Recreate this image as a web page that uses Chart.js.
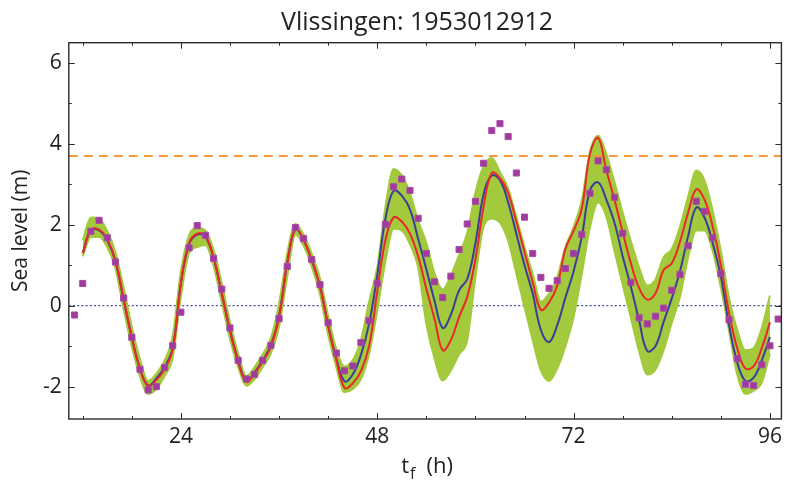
<!DOCTYPE html>
<html>
<head>
<meta charset="utf-8">
<title>Vlissingen: 1953012912</title>
<script src="https://cdn.jsdelivr.net/npm/chart.js"></script>
<style>
  html, body { margin: 0; padding: 0; background: #fff; }
</style>
</head>
<body>
<canvas id="chart" width="787" height="484"></canvas>
<script>
// forecast hours of the model runs
const hours = [12, 13, 14, 15, 16, 17, 18, 19, 20, 21, 22, 23, 24, 25, 26, 27, 28, 29, 30,
  31, 32, 33, 34, 35, 36, 37, 38, 39, 40, 41, 42, 43, 44, 45, 46, 47, 48, 49, 50,
  51, 52, 53, 54, 55, 56, 57, 58, 59, 60, 61, 62, 63, 64, 65, 66, 67, 68, 69, 70,
  71, 72, 73, 74, 75, 76, 77, 78, 79, 80, 81, 82, 83, 84, 85, 86, 87, 88, 89, 90,
  91, 92, 93, 94, 95, 96];

// ensemble mean (blue)
const ensMean = [1.30, 1.86, 1.86, 1.62, 1.10, 0.15, -0.78, -1.55, -1.97, -1.80, -1.52, -1.05,
  0.55, 1.52, 1.76, 1.70, 1.18, 0.30, -0.60, -1.35, -1.86, -1.65, -1.35, -0.98, -0.25,
  1.05, 1.90, 1.62, 1.12, 0.48, -0.48, -1.30, -1.87, -1.70, -1.22, -0.45, 0.75, 2.15,
  2.84, 2.72, 2.38, 1.65, 0.90, 0.12, -0.55, -0.22, 0.38, 0.66, 1.55, 2.75, 3.22, 3.10,
  2.55, 1.78, 1.00, 0.30, -0.60, -0.90, -0.48, 0.20, 0.85, 1.70, 2.85, 3.05, 2.62, 2.05,
  1.22, 0.47, -0.36, -1.12, -1.00, -0.40, 0.18, 0.85, 1.72, 2.43, 2.18, 1.55, 0.72,
  -0.48, -1.40, -1.86, -1.78, -1.35, -0.77];

// deterministic run (red)
const detRun = [1.30, 1.88, 1.88, 1.64, 1.12, 0.16, -0.78, -1.56, -1.99, -1.84, -1.58, -1.08,
  0.55, 1.55, 1.78, 1.72, 1.18, 0.30, -0.62, -1.38, -1.88, -1.68, -1.38, -1.02, -0.28,
  1.05, 1.90, 1.63, 1.12, 0.48, -0.50, -1.34, -2.03, -1.92, -1.62, -1.00, 0.35, 1.62,
  2.18, 2.08, 1.78, 1.22, 0.42, -0.32, -1.10, -0.85, -0.28, 0.22, 1.15, 2.45, 3.28, 3.15,
  2.78, 2.08, 1.33, 0.58, -0.10, 0.08, 0.50, 1.40, 1.85, 2.40, 3.75, 4.15, 3.35, 2.62,
  1.82, 1.05, 0.44, 0.15, 0.30, 0.88, 1.05, 1.58, 2.30, 2.88, 2.62, 1.95, 1.00,
  -0.18, -1.05, -1.55, -1.50, -1.05, -0.41];

// upper and lower edge of the ensemble members (green)
const ensMax = [1.62, 2.18, 2.15, 1.85, 1.32, 0.45, -0.52, -1.32, -1.86, -1.68, -1.36, -0.75,
  0.85, 1.74, 1.92, 1.86, 1.38, 0.55, -0.40, -1.18, -1.74, -1.52, -1.20, -0.80, 0.05,
  1.30, 2.02, 1.76, 1.28, 0.68, -0.25, -1.08, -1.50, -1.35, -0.85, 0.10, 0.95, 2.45,
  3.38, 3.22, 2.78, 2.10, 1.55, 0.80, 0.40, 0.75, 1.25, 1.80, 2.80, 3.45, 3.65, 3.30,
  2.90, 2.19, 1.45, 0.79, 0.10, 0.30, 0.70, 1.45, 1.95, 2.60, 3.80, 4.20, 3.75, 3.05,
  2.30, 1.60, 0.95, 0.50, 0.65, 1.20, 1.40, 1.95, 2.70, 3.34, 3.10, 2.35, 1.35,
  0.20, -0.60, -1.10, -1.05, -0.55, 0.25];
const ensMin = [1.22, 1.70, 1.70, 1.45, 0.92, -0.08, -1.00, -1.75, -2.18, -2.06, -1.74, -1.28,
  0.22, 1.30, 1.45, 1.50, 0.98, 0.08, -0.82, -1.52, -1.98, -1.82, -1.52, -1.18, -0.52,
  0.72, 1.76, 1.48, 0.96, 0.28, -0.72, -1.52, -2.14, -2.06, -1.82, -1.20, -0.12, 1.10,
  1.90, 1.86, 1.52, 0.95, -0.45, -1.30, -1.85, -1.60, -1.20, -0.85, 0.70, 1.95, 2.15,
  2.05, 1.61, 0.79, -0.03, -0.85, -1.60, -1.86, -1.55, -1.00, -0.28, 0.79, 1.94, 2.55,
  2.20, 1.35, 0.52, -0.30, -1.12, -1.70, -1.58, -1.10, -0.42, 0.22, 1.20, 1.86, 1.86,
  1.35, 0.45, -0.62, -1.70, -2.18, -2.10, -1.90, -1.18];

// hourly observed sea level (purple)
const obsHours = [11, 12, 13, 14, 15, 16, 17, 18, 19, 20, 21, 22, 23, 24, 25, 26, 27, 28, 29, 30,
  31, 32, 33, 34, 35, 36, 37, 38, 39, 40, 41, 42, 43, 44, 45, 46, 47, 48, 49, 50,
  51, 52, 53, 54, 55, 56, 57, 58, 59, 60, 61, 62, 63, 64, 65, 66, 67, 68, 69, 70,
  71, 72, 73, 74, 75, 76, 77, 78, 79, 80, 81, 82, 83, 84, 85, 86, 87, 88, 89, 90,
  91, 92, 93, 94, 95, 96, 97];
const obsLevel = [-0.23, 0.55, 1.84, 2.11, 1.68, 1.08, 0.19, -0.78, -1.57, -2.08, -2.00, -1.53,
  -0.99, -0.16, 1.43, 1.98, 1.74, 1.17, 0.41, -0.55, -1.35, -1.81, -1.70, -1.35, -0.98,
  -0.32, 0.97, 1.93, 1.66, 1.14, 0.52, -0.42, -1.17, -1.61, -1.49, -0.91, -0.37, 0.55,
  2.01, 2.94, 3.13, 2.85, 2.16, 1.29, 0.59, 0.20, 0.73, 1.39, 2.02, 2.58, 3.52, 4.33,
  4.50, 4.18, 3.28, 2.19, 1.29, 0.70, 0.43, 0.62, 0.92, 1.29, 1.76, 2.78, 3.58, 3.36,
  2.68, 1.79, 0.58, -0.30, -0.45, -0.26, -0.06, 0.38, 0.77, 1.48, 2.58, 2.33, 1.68,
  0.79, -0.35, -1.31, -1.94, -1.97, -1.46, -0.99, -0.33];

const alarmLevel = 3.7;   // orange dashed threshold
const xMin = 10.3, xMax = 97.4;
const yMin = -2.8, yMax = 6.5;
const xTicks = [12, 18, 24, 30, 36, 42, 48, 54, 60, 66, 72, 78, 84, 90, 96];
const xTickLabels = [24, 48, 72, 96];
const yTicks = [-2, -1, 0, 1, 2, 3, 4, 5, 6];
const yTickLabels = [-2, 0, 2, 4, 6];
const chartTitle = 'Vlissingen: 1953012912';

const FONT = "'Open Sans', 'DejaVu Sans', sans-serif";
const GREEN = 'rgb(163, 201, 60)';

const pts = (xs, ys) => xs.map((x, i) => ({ x: x, y: ys[i] }));

// frame with inward tick marks on all four sides, title and the t_f axis title
const framePlugin = {
  id: 'frame',
  afterDraw(chart) {
    const { ctx, chartArea: a, scales: { x, y } } = chart;
    ctx.save();
    ctx.strokeStyle = '#2b2b2b';
    ctx.lineWidth = 1.4;
    ctx.strokeRect(a.left, a.top, a.right - a.left, a.bottom - a.top);
    ctx.lineWidth = 1;
    ctx.beginPath();
    xTicks.forEach(v => {
      const px = Math.round(x.getPixelForValue(v)) + 0.5;
      const len = xTickLabels.includes(v) ? 6 : 3;
      ctx.moveTo(px, a.bottom); ctx.lineTo(px, a.bottom - len);
      ctx.moveTo(px, a.top); ctx.lineTo(px, a.top + len);
    });
    yTicks.forEach(v => {
      const py = Math.round(y.getPixelForValue(v)) + 0.5;
      const len = yTickLabels.includes(v) ? 6 : 3;
      ctx.moveTo(a.left, py); ctx.lineTo(a.left + len, py);
      ctx.moveTo(a.right, py); ctx.lineTo(a.right - len, py);
    });
    ctx.stroke();

    ctx.fillStyle = '#222';
    ctx.textBaseline = 'alphabetic';

    // chart title
    ctx.textAlign = 'center';
    ctx.font = '25px ' + FONT;
    ctx.fillText(chartTitle, 417, 30);

    // x axis title: t with subscript f, then (h)
    ctx.textAlign = 'left';
    const big = '22px ' + FONT, small = '16px ' + FONT;
    ctx.font = big;
    const wT = ctx.measureText('t').width;
    const wH = ctx.measureText('(h)').width;
    ctx.font = small;
    const wF = ctx.measureText('f').width;
    const gap = 12;
    const total = wT + wF + gap + wH;
    const cx = (a.left + a.right) / 2 - total / 2 + 2;
    const base = 473;
    ctx.font = big;
    ctx.fillText('t', cx, base);
    ctx.font = small;
    ctx.fillText('f', cx + wT + 1, base + 6);
    ctx.font = big;
    ctx.fillText('(h)', cx + wT + wF + gap, base);
    ctx.restore();
  }
};

new Chart(document.getElementById('chart'), {
  type: 'line',
  data: {
    datasets: [
      {
        label: 'ensemble max',
        data: pts(hours, ensMax),
        borderColor: GREEN,
        backgroundColor: GREEN,
        borderWidth: 2,
        pointRadius: 0,
        fill: '+1',
        cubicInterpolationMode: 'monotone',
        order: 5
      },
      {
        label: 'ensemble min',
        data: pts(hours, ensMin),
        borderColor: GREEN,
        borderWidth: 2,
        pointRadius: 0,
        fill: false,
        cubicInterpolationMode: 'monotone',
        order: 5
      },
      {
        label: 'zero',
        data: [{ x: xMin, y: 0 }, { x: xMax, y: 0 }],
        borderColor: '#4a4ea6',
        borderWidth: 1.3,
        borderDash: [2, 2.2],
        pointRadius: 0,
        order: 6
      },
      {
        label: 'alarm level',
        data: [{ x: xMin, y: alarmLevel }, { x: xMax, y: alarmLevel }],
        borderColor: '#f39a3a',
        borderWidth: 2,
        borderDash: [9, 6],
        pointRadius: 0,
        order: 4
      },
      {
        label: 'ensemble mean',
        data: pts(hours, ensMean),
        borderColor: '#3a3e9b',
        borderWidth: 2,
        pointRadius: 0,
        tension: 0.4,
        order: 2
      },
      {
        label: 'deterministic',
        data: pts(hours, detRun),
        borderColor: '#e8282b',
        borderWidth: 2,
        pointRadius: 0,
        tension: 0.4,
        order: 1
      },
      {
        label: 'observed',
        data: pts(obsHours, obsLevel),
        showLine: false,
        pointStyle: 'rect',
        pointRadius: 4.3,
        pointBorderWidth: 1,
        pointBackgroundColor: '#a03a9c',
        pointBorderColor: '#a84aa6',
        order: 0
      }
    ]
  },
  options: {
    responsive: false,
    animation: false,
    devicePixelRatio: 1,
    layout: { padding: { left: 0, right: 2, top: 42.7, bottom: 0 }, autoPadding: false },
    plugins: {
      legend: { display: false },
      tooltip: { enabled: false },
      title: { display: false }
    },
    scales: {
      x: {
        type: 'linear',
        min: xMin,
        max: xMax,
        grid: { display: false, drawTicks: false },
        border: { display: false },
        afterBuildTicks: s => { s.ticks = xTicks.map(v => ({ value: v })); },
        afterFit: s => { s.height = 65; },
        ticks: {
          autoSkip: false,
          maxRotation: 0,
          padding: 5,
          color: '#222',
          font: { family: FONT, size: 21 },
          callback: v => xTickLabels.includes(v) ? String(v) : ''
        }
      },
      y: {
        type: 'linear',
        min: yMin,
        max: yMax,
        grid: { display: false, drawTicks: false },
        border: { display: false },
        afterBuildTicks: s => { s.ticks = yTicks.map(v => ({ value: v })); },
        afterFit: s => { s.width = 68.8; },
        title: {
          display: true,
          text: 'Sea level (m)',
          color: '#222',
          font: { family: FONT, size: 21 },
          padding: { top: 8, bottom: 0 }
        },
        ticks: {
          autoSkip: false,
          padding: 7,
          color: '#222',
          font: { family: FONT, size: 21 },
          callback: v => yTickLabels.includes(v) ? String(v) : ''
        }
      }
    }
  },
  plugins: [framePlugin]
});
</script>
</body>
</html>
